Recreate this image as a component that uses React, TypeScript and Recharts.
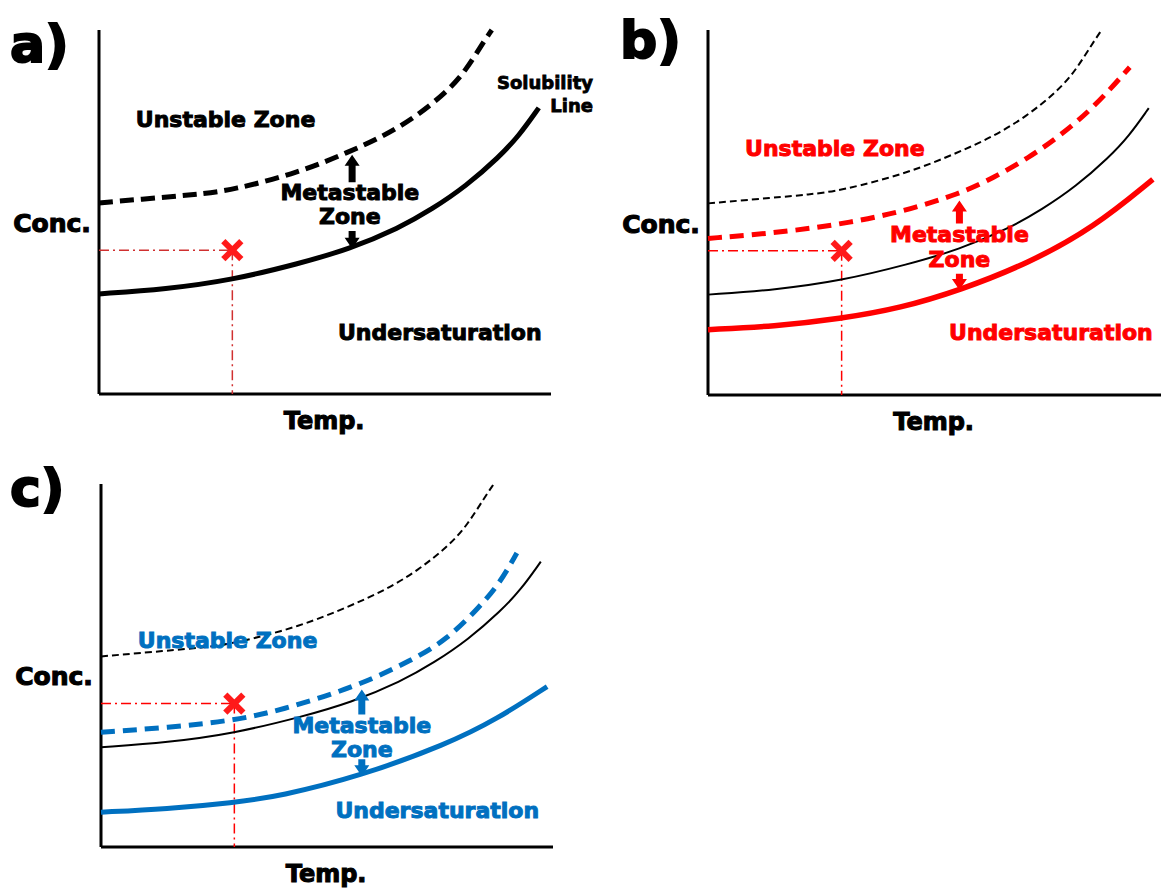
import React from "react";
import { LineChart, Line, XAxis, YAxis, ReferenceLine, ReferenceDot } from "recharts";

// temperature (0-100) / concentration (0-100) readings, in arbitrary schematic units

// solubility line, black, same in every panel
const solT = [0, 14.8, 29.4, 44.2, 55.3, 66.4, 73.7, 81.2, 88.5, 92.9, 97.3];
const solC = [27.5, 28.8, 31.3, 35.8, 39.8, 45.6, 50.8, 57.1, 65.1, 70.9, 78.6];

// metastable limit, black dashed, same in every panel
const limT = [0, 14.8, 22.1, 29.4, 44.2, 55.3, 62.6, 70.1, 77.4, 81.2, 84.7, 86.9];
const limC = [52.5, 54.1, 54.9, 56.0, 60.8, 66.5, 70.6, 76.1, 83.5, 89.0, 96.0, 100];

// panel b: shifted curves (red)
const redLimT = [0, 13.1, 27.7, 42.5, 55.8, 63.1, 70.6, 77.9, 85.2, 93.1];
const redLimC = [42.9, 44.2, 46.4, 50.0, 55.2, 59.6, 64.8, 71.2, 78.8, 89.8];
const redSolT = [0, 14.6, 29.2, 42.5, 55.8, 70.6, 85.2, 98.2];
const redSolC = [17.9, 18.8, 20.9, 23.8, 28.8, 36.0, 45.9, 59.1];

// panel c: shifted curves (blue)
const blueLimT = [0, 14.6, 29.2, 39.6, 56.6, 69.0, 76.5, 83.8, 88.3, 92.0];
const blueLimC = [31.6, 32.9, 34.8, 37.6, 44.2, 51.6, 57.1, 66.2, 72.8, 81.0];
const blueSolT = [0, 14.6, 29.2, 39.6, 57.3, 76.5, 87.6, 98.7];
const blueSolC = [9.6, 10.5, 12.2, 14.0, 19.5, 28.3, 35.2, 44.2];

// operating point (the red cross)
const opPoint = { t: 29.5, c: 39.5 };

const FONT = "'DejaVu Sans', 'Liberation Sans', Arial, sans-serif";
const RED = "#ff0000";
const BLUE = "#0070c0";

const zip = (ts: number[], cs: number[]) => ts.map((t, i) => ({ t, c: cs[i] }));

const Arrow = ({ x1, y1, x2, y2, fill }: any) => {
  const dir = y2 < y1 ? -1 : 1;
  const head = 11;
  const hw = 7.5;
  const sw = 3.5;
  const neck = y2 - dir * head;
  const d = `M${x1 - sw},${y1} L${x1 - sw},${neck} L${x1 - hw},${neck} L${x2},${y2} L${x1 + hw},${neck} L${x1 + sw},${neck} L${x1 + sw},${y1} Z`;
  return <path d={d} fill={fill} />;
};

const Cross = ({ cx, cy }: any) => (
  <g stroke="#ff1a1a" strokeWidth={6}>
    <line x1={cx - 9} y1={cy - 9} x2={cx + 9} y2={cy + 9} />
    <line x1={cx - 9} y1={cy + 9} x2={cx + 9} y2={cy - 9} />
  </g>
);

const textShape = (str: string, fill: string, size: number, anchor: string) => (p: any) => (
  <text
    x={p.cx}
    y={p.cy}
    fill={fill}
    stroke={fill}
    strokeWidth={size * 0.045}
    fontSize={size}
    fontWeight="bold"
    fontFamily={FONT}
    textAnchor={anchor}
  >
    {str}
  </text>
);

interface SeriesDef {
  data: { t: number; c: number }[];
  stroke: string;
  width: number;
  dash?: string;
}

interface TextDef {
  t: number;
  c: number;
  text: string;
  size?: number;
  anchor?: string;
}

interface PanelDef {
  left: number;
  top: number;
  width: number;
  height: number;
  margin: { top: number; right: number; bottom: number; left: number };
  color: string;
  guide: string;
  series: SeriesDef[];
  texts: TextDef[];
  arrowT: number;
  up: [number, number];
  down: [number, number];
}

const panels: PanelDef[] = [
  {
    left: 0,
    top: 0,
    width: 600,
    height: 450,
    margin: { top: 30, right: 49, bottom: 56, left: 99 },
    color: "#000",
    guide: "#d03030",
    series: [
      { data: zip(limT, limC), stroke: "#000", width: 5, dash: "14 7" },
      { data: zip(solT, solC), stroke: "#000", width: 5 },
    ],
    texts: [
      { t: 28.0, c: 73.4, text: "Unstable Zone" },
      { t: 55.5, c: 53.3, text: "Metastable" },
      { t: 55.5, c: 46.7, text: "Zone" },
      { t: 75.4, c: 14.8, text: "Undersaturation" },
      { t: 109.3, c: 83.8, text: "Solubility", size: 18, anchor: "end" },
      { t: 109.3, c: 77.5, text: "Line", size: 18, anchor: "end" },
    ],
    arrowT: 56.0,
    up: [58.2, 65.7],
    down: [44.8, 39.9],
  },
  {
    left: 600,
    top: 0,
    width: 561,
    height: 450,
    margin: { top: 30, right: 0, bottom: 55, left: 108 },
    color: RED,
    guide: RED,
    series: [
      { data: zip(limT, limC), stroke: "#000", width: 2, dash: "7 4" },
      { data: zip(solT, solC), stroke: "#000", width: 2 },
      { data: zip(redLimT, redLimC), stroke: RED, width: 5, dash: "14 8" },
      { data: zip(redSolT, redSolC), stroke: RED, width: 5.5 },
    ],
    texts: [
      { t: 28.0, c: 65.4, text: "Unstable Zone" },
      { t: 55.5, c: 42.0, text: "Metastable" },
      { t: 55.5, c: 35.2, text: "Zone" },
      { t: 75.7, c: 15.1, text: "Undersaturation" },
    ],
    arrowT: 55.5,
    up: [47.0, 53.3],
    down: [33.2, 28.8],
  },
  {
    left: 0,
    top: 450,
    width: 600,
    height: 440,
    margin: { top: 34, right: 47, bottom: 43, left: 101 },
    color: BLUE,
    guide: RED,
    series: [
      { data: zip(limT, limC), stroke: "#000", width: 2, dash: "7 4" },
      { data: zip(solT, solC), stroke: "#000", width: 2 },
      { data: zip(blueLimT, blueLimC), stroke: BLUE, width: 5, dash: "14 8" },
      { data: zip(blueSolT, blueSolC), stroke: BLUE, width: 5 },
    ],
    texts: [
      { t: 28.0, c: 54.9, text: "Unstable Zone" },
      { t: 57.7, c: 31.3, text: "Metastable" },
      { t: 57.7, c: 24.7, text: "Zone" },
      { t: 74.4, c: 8.0, text: "Undersaturation" },
    ],
    arrowT: 57.7,
    up: [36.5, 43.4],
    down: [24.2, 19.5],
  },
];

const letters = [
  { text: "a)", x: 10, y: 62 },
  { text: "b)", x: 620, y: 58 },
  { text: "c)", x: 10, y: 506 },
];

function Panel({ p }: { p: PanelDef }) {
  return (
    <div style={{ position: "absolute", left: p.left, top: p.top }}>
      <LineChart width={p.width} height={p.height} margin={p.margin}>
        <XAxis type="number" dataKey="t" domain={[0, 100]} hide />
        <YAxis type="number" dataKey="c" domain={[0, 100]} hide />
        {/* axes drawn as plain lines along the plot edges */}
        <ReferenceLine x={0} stroke="#000" strokeWidth={3} />
        <ReferenceLine y={0} stroke="#000" strokeWidth={3} />
        {/* dash-dot guides to the operating point */}
        <ReferenceLine
          segment={[{ x: 0, y: opPoint.c }, { x: opPoint.t, y: opPoint.c }]}
          stroke={p.guide}
          strokeWidth={1.5}
          strokeDasharray="10 4 2 4"
        />
        <ReferenceLine
          segment={[{ x: opPoint.t, y: opPoint.c }, { x: opPoint.t, y: 0 }]}
          stroke={p.guide}
          strokeWidth={1.5}
          strokeDasharray="10 4 2 4"
        />
        {p.series.map((s, i) => (
          <Line
            key={i}
            data={s.data}
            dataKey="c"
            type="basis"
            stroke={s.stroke}
            strokeWidth={s.width}
            strokeDasharray={s.dash}
            dot={false}
            activeDot={false}
            isAnimationActive={false}
          />
        ))}
        <ReferenceLine
          segment={[{ x: p.arrowT, y: p.up[0] }, { x: p.arrowT, y: p.up[1] }]}
          shape={(a: any) => <Arrow {...a} fill={p.color} />}
        />
        <ReferenceLine
          segment={[{ x: p.arrowT, y: p.down[0] }, { x: p.arrowT, y: p.down[1] }]}
          shape={(a: any) => <Arrow {...a} fill={p.color} />}
        />
        <ReferenceDot x={opPoint.t} y={opPoint.c} shape={Cross} ifOverflow="visible" />
        {p.texts.map((tx, i) => (
          <ReferenceDot
            key={i}
            x={tx.t}
            y={tx.c}
            ifOverflow="visible"
            shape={textShape(tx.text, p.color, tx.size ?? 22, tx.anchor ?? "middle")}
          />
        ))}
        <ReferenceDot x={-1.8} y={44.5} ifOverflow="visible" shape={textShape("Conc.", "#000", 25, "end")} />
        <ReferenceDot x={49.8} y={-9.6} ifOverflow="visible" shape={textShape("Temp.", "#000", 24, "middle")} />
      </LineChart>
    </div>
  );
}

export default function App() {
  return (
    <div style={{ position: "absolute", left: 0, top: 0, width: 1161, height: 890, background: "#fff" }}>
      {panels.map((p, i) => (
        <Panel key={i} p={p} />
      ))}
      <svg width={1161} height={890} style={{ position: "absolute", left: 0, top: 0, pointerEvents: "none" }}>
        {letters.map((l) => (
          <text
            key={l.text}
            x={l.x}
            y={l.y}
            fontSize={52}
            fontWeight="bold"
            fontFamily={FONT}
            fill="#000"
            stroke="#000"
            strokeWidth={2}
          >
            {l.text}
          </text>
        ))}
      </svg>
    </div>
  );
}
